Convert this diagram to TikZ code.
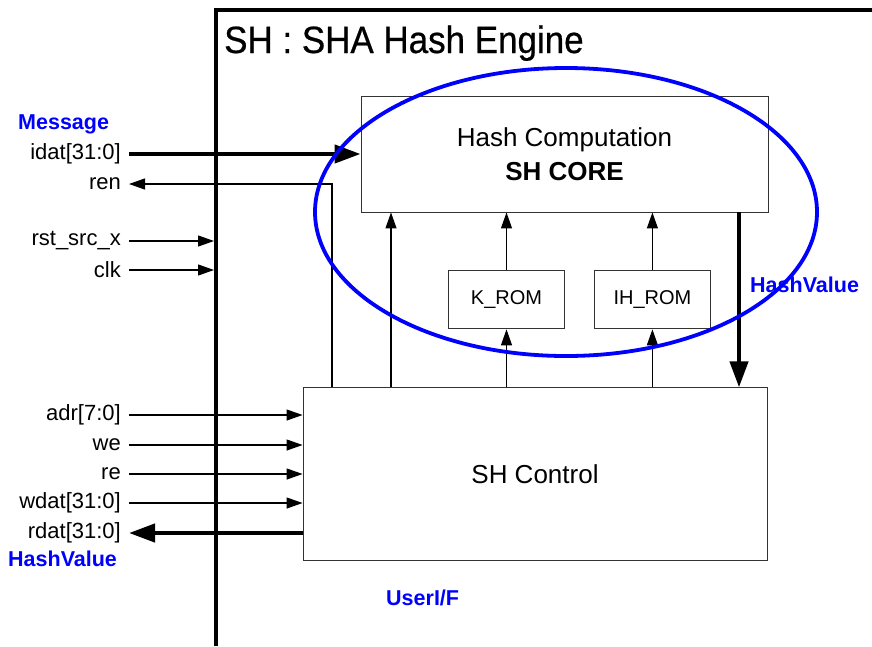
\documentclass[tikz,border=0pt]{standalone}
\usepackage{fontspec}
\setmainfont{Liberation Sans}
\newfontfamily\titlefont[FakeStretch=0.92, FakeBold=0.6]{Liberation Sans}
\usepackage{xcolor}
\usetikzlibrary{shapes.geometric, arrows.meta, positioning}
\definecolor{hiblue}{RGB}{0,0,255}
\tikzset{
  block/.style={rectangle, draw=black!80, line width=0.9pt, text centered, font=\fontsize{26}{34}\selectfont},
  rom/.style={rectangle, draw=black!80, line width=0.9pt, minimum width=116pt, minimum height=58pt, text centered, font=\fontsize{20}{24}\selectfont},
  port/.style={anchor=east, inner xsep=8pt, inner ysep=0pt, font=\fontsize{22}{24}\selectfont},
  note/.style={anchor=west, inner sep=0pt, text=hiblue, font=\fontsize{21.5}{24}\selectfont\bfseries},
  arrow/.style={line width=1.2pt, -{Triangle[length=16pt, width=11pt]}},
  busarrow/.style={line width=4.3pt, -{Triangle[length=26pt, width=18pt]}},
  frame/.style={line width=4.5pt},
  halo/.style={ellipse, draw=hiblue, line width=3.8pt, minimum width=502pt, minimum height=288pt, inner sep=0pt}
}

\begin{document}
\begin{tikzpicture}[x=1pt, y=-1pt]
\useasboundingbox (0,0) rectangle (872,646);
% engine frame
\coordinate (fr) at (216,10);
\draw[frame] (216,646) -- (fr) -- (872,10);
\node[anchor=base west, inner sep=0pt, font=\titlefont\fontsize{38}{40}\selectfont] (title) at (224,53) {SH : SHA Hash Engine};

% blocks
\node[block, minimum width=407pt, minimum height=116pt, align=center] (core) at (564.5,154) {Hash Computation\\\textbf{SH CORE}};
\node[rom, below=58pt of core, xshift=-58pt] (krom) {K\_ROM};
\node[rom, right=29pt of krom] (ihrom) {IH\_ROM};
\node[block, minimum width=464pt, minimum height=173pt, below=58pt of krom, xshift=28.5pt] (ctrl) {SH Control};

% ports
\node[port] (idat) at (129,154) {idat[31:0]};
\node[port] (ren) at (129,184) {ren};
\node[port] (rst) at (129,241) {rst\_src\_x};
\node[port] (clk) at (129,270) {clk};
\node[port] (adr) at (129,415) {adr[7:0]};
\node[port] (we) at (129,445) {we};
\node[port] (re) at (129,474) {re};
\node[port] (wdat) at (129,503) {wdat[31:0]};
\node[port] (rdat) at (129,533) {rdat[31:0]};

\draw[busarrow] (idat.east) -- (idat.east -| core.west);
\coordinate (rentap) at (332,184);
\draw[arrow] (rentap |- ctrl.north) -- (rentap) -- (ren.east);
\draw[arrow, shorten >=2pt] (rst.east) -- (rst.east -| fr);
\draw[arrow, shorten >=2pt] (clk.east) -- (clk.east -| fr);
\foreach \p in {adr,we,re,wdat}
  \draw[arrow] (\p.east) -- (\p.east -| ctrl.west);
\draw[busarrow] (rdat.east -| ctrl.west) -- (rdat.east);

% control to core
\coordinate (selx) at (391,300);
\draw[arrow] (selx |- ctrl.north) -- (selx |- core.south);
\foreach \r in {krom,ihrom} {
  \draw[arrow] (\r.south |- ctrl.north) -- (\r.south);
  \draw[arrow] (\r.north) -- (\r.north |- core.south);
}
\coordinate (hvx) at (739,300);
\draw[busarrow] (hvx |- core.south) -- (hvx |- ctrl.north);

% highlight
\node[halo] (coreset) at (566,212) {};

% notes
\node[note] (msg) at (18,124) {Message};
\node[note] (hvout) at (8,559) {HashValue};
\node[note] (hvcore) at (750,285) {HashValue};
\node[note] (uif) at (386,598) {UserI/F};
\end{tikzpicture}
\end{document}
